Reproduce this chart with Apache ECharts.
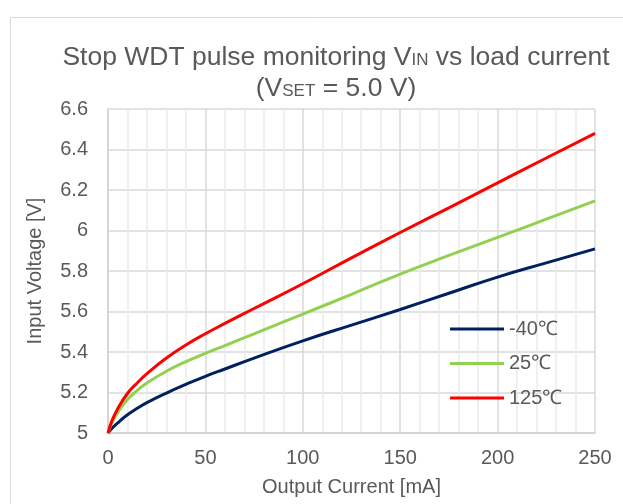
<!DOCTYPE html>
<html><head><meta charset="utf-8">
<script src="https://cdn.jsdelivr.net/npm/echarts@6/dist/echarts.min.js"></script>
<style>html,body{margin:0;padding:0;background:#fff}#c{width:623px;height:504px}</style>
</head><body><div id="c"></div>
<script>
var currents = [0, 2, 5, 10, 15, 20, 30, 40, 50, 60, 75, 100, 125, 150, 175, 200, 225, 250];
var vMinus40 = [5.0, 5.022, 5.05, 5.09, 5.122, 5.15, 5.197, 5.24, 5.28, 5.316, 5.37, 5.455, 5.533, 5.61, 5.69, 5.77, 5.84, 5.909];
var v25 = [5.0, 5.05, 5.1, 5.165, 5.21, 5.247, 5.305, 5.352, 5.393, 5.432, 5.49, 5.587, 5.685, 5.785, 5.877, 5.966, 6.056, 6.146];
var v125 = [5.0, 5.06, 5.12, 5.195, 5.247, 5.293, 5.37, 5.435, 5.49, 5.541, 5.615, 5.737, 5.865, 5.99, 6.112, 6.235, 6.358, 6.48];
var seriesNames = ['-40℃', '25℃', '125℃'];
var seriesColors = ['#002060', '#92D050', '#FF0000'];
var seriesData = [vMinus40, v25, v125];

function pairs(xs, ys) { return xs.map(function (x, i) { return [x, ys[i]]; }); }

var chart = echarts.init(document.getElementById('c'));
var font = 'Liberation Sans, Arial, sans-serif';
chart.setOption({
  animation: false,
  textStyle: { fontFamily: font },
  graphic: [{
    type: 'rect', left: 8, top: 15, silent: true,
    shape: { width: 700, height: 600 },
    style: { fill: 'none', stroke: '#d9d9d9', lineWidth: 1 }
  }, {
    type: 'text', x: 336, y: 42, silent: true,
    style: {
      align: 'center', verticalAlign: 'top',
      text: '{t|Stop WDT pulse monitoring V}{s|IN}{t| vs load current}\n{t|(V}{s|SET}{t| = 5.0 V)}',
      rich: {
        t: { fontSize: 26.5, fill: '#595959', fontFamily: font, lineHeight: 31 },
        s: { fontSize: 17, fill: '#595959', fontFamily: font, lineHeight: 31, padding: [6, 0, 0, 0] }
      }
    }
  }],
  grid: { left: 108, top: 109, right: 28, bottom: 71 },
  legend: {
    left: 445, top: 314, orient: 'vertical',
    itemWidth: 54, itemHeight: 3, itemGap: 14.5,
    icon: 'rect',
    textStyle: { fontSize: 20, color: '#595959', lineHeight: 20 },
    data: seriesNames
  },
  xAxis: {
    type: 'value', min: 0, max: 250, interval: 50,
    name: 'Output Current [mA]', nameLocation: 'middle', nameGap: 44,
    nameTextStyle: { fontSize: 20, color: '#595959' },
    axisLine: { show: true, lineStyle: { color: '#d0d0d0', width: 1.5 } },
    axisTick: { show: false },
    axisLabel: { fontSize: 20, color: '#595959', margin: 15 },
    splitLine: { show: true, lineStyle: { color: '#d9d9d9', width: 1.5 } },
    minorTick: { show: true, splitNumber: 5, length: 0, lineStyle: { color: 'rgba(0,0,0,0)' } },
    minorSplitLine: { show: true, lineStyle: { color: '#ececec', width: 1.5 } }
  },
  yAxis: {
    type: 'value', min: 5, max: 6.6, interval: 0.2,
    name: 'Input Voltage [V]', nameLocation: 'middle', nameGap: 63,
    nameTextStyle: { fontSize: 20, color: '#595959' },
    axisLine: { show: true, lineStyle: { color: '#d0d0d0', width: 1.5 } },
    axisTick: { show: false },
    axisLabel: { fontSize: 20, color: '#595959', margin: 20,
      formatter: function (v) { return String(Math.round(v * 10) / 10); } },
    splitLine: { show: true, lineStyle: { color: '#d9d9d9', width: 1.5 } }
  },
  series: seriesNames.map(function (n, i) {
    return {
      name: n, type: 'line', smooth: 0.5, showSymbol: false,
      data: pairs(currents, seriesData[i]),
      lineStyle: { color: seriesColors[i], width: 3 },
      itemStyle: { color: seriesColors[i] }
    };
  })
});
</script></body></html>
